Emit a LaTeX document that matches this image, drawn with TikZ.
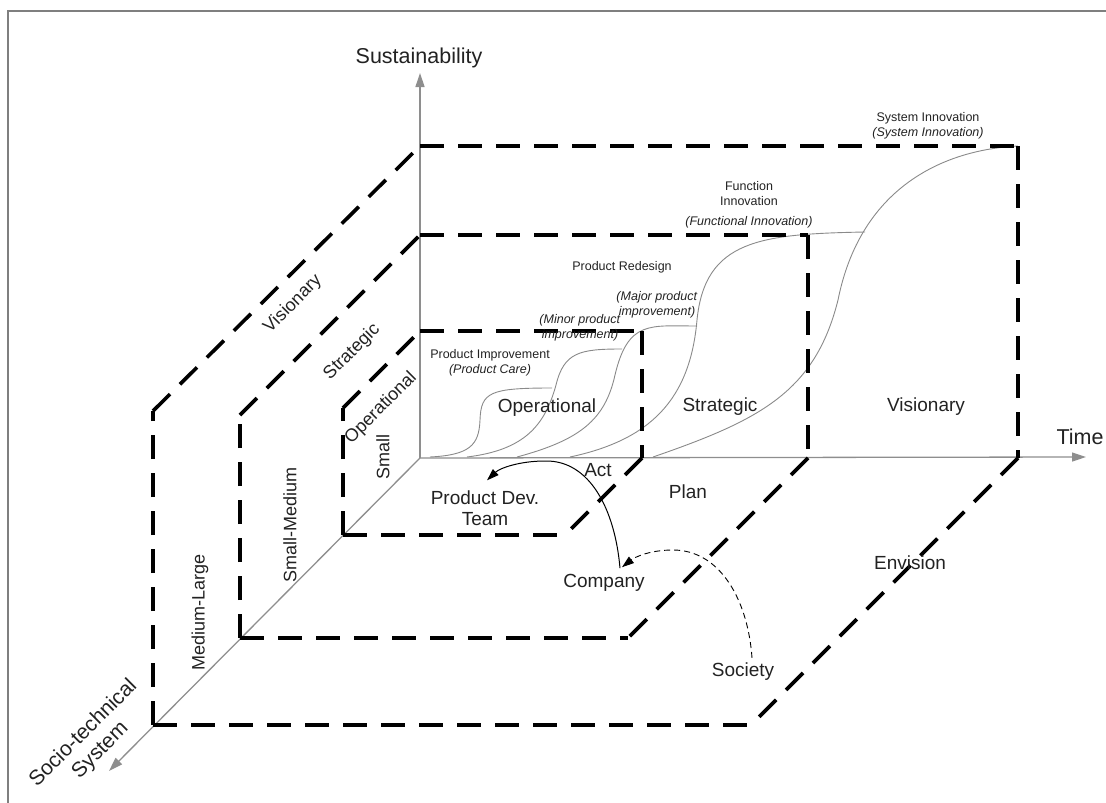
\documentclass[tikz,border=0pt]{standalone}
\usepackage{fontspec}
\setmainfont{Liberation Sans}
\usetikzlibrary{arrows.meta}
\definecolor{txt}{HTML}{222222}
\definecolor{framegray}{HTML}{7F7F7F}
\definecolor{axisgray}{HTML}{8E8E8E}
\definecolor{curvegray}{HTML}{8A8A8A}
\begin{document}
\begin{tikzpicture}[x=1pt,y=-1pt,
  boxline/.style={line width=3.6pt, dash pattern=on 24pt off 14pt, black},
  axisline/.style={draw=axisgray, line width=1.3pt, -{Triangle[length=14pt,width=9pt,fill=axisgray]}},
  scurve/.style={draw=curvegray, line width=0.9pt},
  biglbl/.style={font=\fontsize{21.5}{24}\selectfont, text=txt, align=center, inner sep=0pt},
  lbl/.style={font=\fontsize{19}{21}\selectfont, text=txt, align=center, inner sep=0pt},
  sidelbl/.style={font=\fontsize{18}{21}\selectfont, text=txt, inner sep=0pt},
  smalllbl/.style={font=\fontsize{12.5}{15}\selectfont, text=txt, align=center, inner sep=0pt},
  arr/.style={line width=1pt, black, -{Triangle[length=12pt,width=8pt]}},
  darr/.style={line width=0.9pt, black, dash pattern=on 6pt off 4pt, -{Triangle[length=12pt,width=8pt]}}
]
\useasboundingbox (0,0) rectangle (1106,803);
% frame
\draw[framegray, line width=2.5pt] (8,803) -- (8,11) -- (1106,11);

% axes
\coordinate (O) at (420,458);
\coordinate (ytip) at (420,73);
\coordinate (xtip) at (1086,457);
\coordinate (ztip) at (109,771);
\draw[axisline] (O) -- (ytip);
\draw[axisline] (O) -- (xtip);
\draw[axisline] (O) -- (ztip);
\node[biglbl] (sus) at (419,58) {Sustainability};
\node[biglbl] (time) at (1080,437) {Time};
\node[biglbl, rotate=45, font=\fontsize{21}{24}\selectfont] (socio) at (92,742) {Socio-technical\\System};

% S-curves
\draw[scurve] (430,457) .. controls (470,455) and (479,445) .. (480,420) .. controls (481,392) and (490,388) .. (552,388);
\draw[scurve] (467,457) .. controls (525,450) and (545,425) .. (556,385) .. controls (564,352) and (580,349) .. (622,349);
\draw[scurve] (517,457) .. controls (580,440) and (605,420) .. (615,375) .. controls (628,320) and (650,326) .. (697,326);
\draw[scurve] (570,457) .. controls (650,440) and (690,400) .. (697,320) .. controls (705,240) and (760,234) .. (865,232);
\draw[scurve] (653,457) .. controls (760,420) and (815,392) .. (838,300) .. controls (860,190) and (940,150) .. (1018,146);

% outer box (Visionary / Medium-Large / Envision), depth 267
\coordinate (vA) at (153,725); \coordinate (vB) at (153,411); \coordinate (vC) at (420,146);
\coordinate (vD) at (1018,146); \coordinate (vE) at (1018,458); \coordinate (vF) at (751,725);
\draw[boxline] (vA) -- (vB); \draw[boxline] (vB) -- (vC); \draw[boxline] (vC) -- (vD);
\draw[boxline] (vD) -- (vE); \draw[boxline] (vE) -- (vF); \draw[boxline] (vA) -- (vF);
% middle box (Strategic / Small-Medium / Plan), depth 180
\coordinate (sA) at (240,638); \coordinate (sB) at (240,415); \coordinate (sC) at (420,235);
\coordinate (sD) at (808,235); \coordinate (sE) at (808,458); \coordinate (sF) at (628,638);
\draw[boxline] (sA) -- (sB); \draw[boxline] (sB) -- (sC); \draw[boxline] (sC) -- (sD);
\draw[boxline] (sD) -- (sE); \draw[boxline] (sE) -- (sF); \draw[boxline] (sA) -- (sF);
% inner box (Operational / Small / Act), depth 77
\coordinate (oA) at (343,535); \coordinate (oB) at (343,408); \coordinate (oC) at (420,331);
\coordinate (oD) at (642,331); \coordinate (oE) at (642,458); \coordinate (oF) at (565,535);
\draw[boxline] (oA) -- (oB); \draw[boxline] (oB) -- (oC); \draw[boxline] (oC) -- (oD);
\draw[boxline] (oD) -- (oE); \draw[boxline] (oE) -- (oF); \draw[boxline] (oA) -- (oF);

% side labels
\node[sidelbl, rotate=45] (lvis) at (293,304) {Visionary};
\node[sidelbl, rotate=45] (lstr) at (352,352) {Strategic};
\node[sidelbl, rotate=45] (lope) at (381,408) {Operational};
\node[sidelbl, rotate=90] (lsmall) at (383,457) {Small};
\node[sidelbl, rotate=90] (lsm) at (290,525) {Small-Medium};
\node[sidelbl, rotate=90] (lml) at (200,612) {Medium-Large};

% plane labels
\node[lbl] (pope) at (547,408) {Operational};
\node[lbl] (pstr) at (720,407) {Strategic};
\node[lbl] (pvis) at (926,407) {Visionary};
\node[lbl] (act) at (598,470) {Act};
\node[lbl] (plan) at (688,492) {Plan};
\node[lbl] (envision) at (910,563) {Envision};
\node[lbl] (pdt) at (485,508) {Product Dev.\\Team};
\node[lbl] (company) at (604,583) {Company};
\node[lbl] (society) at (743,672) {Society};

% small labels
\node[smalllbl] (pimp) at (490,363) {Product Improvement\\\textit{(Product Care)}};
\node[smalllbl] (minor) at (580,328) {\textit{(Minor product}\\\textit{improvement)}};
\node[smalllbl] (major) at (657,305) {\textit{(Major product}\\\textit{improvement)}};
\node[smalllbl] (redesign) at (622,267) {Product Redesign};
\node[smalllbl] (func) at (749,205) {Function\\Innovation\\[5pt]\textit{(Functional Innovation)}};
\node[smalllbl] (sysinn) at (928,126) {System Innovation\\\textit{(System Innovation)}};

% arrows
\draw[arr] ([shift={(16,-6)}]company.north) .. controls (615,510) and (590,460) .. (545,461)
  .. controls (520,461) and (500,468) .. ([shift={(2,-10)}]pdt.north);
\draw[darr] ([shift={(9,-5)}]society.north) .. controls (748,600) and (720,550) .. (673,550)
  .. controls (650,550) and (635,557) .. ([shift={(18,-7)}]company.north);
\end{tikzpicture}
\end{document}
